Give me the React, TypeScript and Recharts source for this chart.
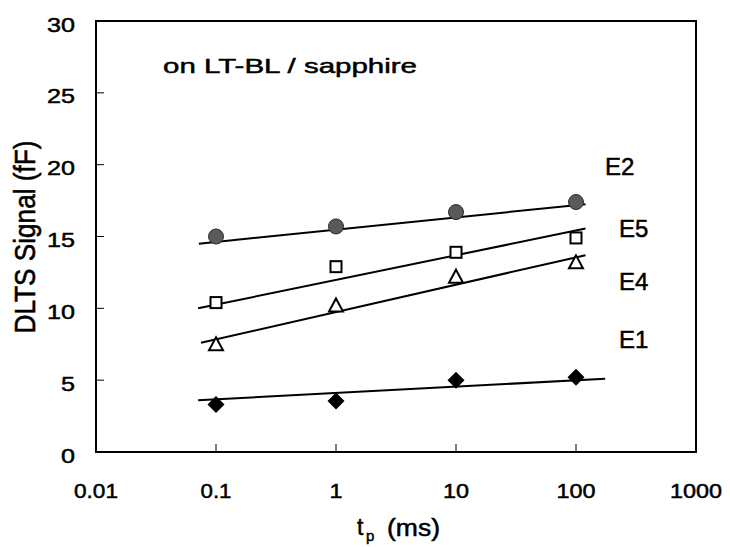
import React from 'react';
import { ScatterChart, Scatter, XAxis, YAxis, ReferenceArea } from 'recharts';

// pulse width tp (ms)
const tpValues = [0.1, 1, 10, 100];

// DLTS signal (fF) per trap
const e2Signal = [15.0, 15.7, 16.7, 17.4];
const e5Signal = [10.4, 12.9, 13.9, 14.9];
const e4Signal = [7.5, 10.2, 12.2, 13.2];
const e1Signal = [3.3, 3.55, 5.0, 5.2];

// end points of the fitted lines: [tp, signal]
const e2Fit = [[0.072, 14.5], [120, 17.25]];
const e5Fit = [[0.071, 10.0], [120, 15.55]];
const e4Fit = [[0.075, 7.6], [120, 13.7]];
const e1Fit = [[0.071, 3.6], [175, 5.1]];

const xTicks = [0.01, 0.1, 1, 10, 100, 1000];
const yTicks = [0, 5, 10, 15, 20, 25, 30];

const toPoints = (ys: number[]) => tpValues.map((x, i) => ({ x, y: ys[i] }));
const toLine = (pts: number[][]) => pts.map(([x, y]) => ({ x, y }));

const FONT = '"Liberation Sans", Arial, sans-serif';
// scanned text looks heavier than plain Arial
const INK = { stroke: '#000', strokeWidth: 0.5 };

const Circle = ({ cx, cy }: any) => (
  <circle cx={cx} cy={cy} r={7.5} fill="#5a5a5a" stroke="#2a2a2a" strokeWidth={1} />
);
const Square = ({ cx, cy }: any) => (
  <rect x={cx - 5.5} y={cy - 5.5} width={11} height={11} fill="#fff" stroke="#000" strokeWidth={2} />
);
const Triangle = ({ cx, cy }: any) => (
  <path d={`M${cx},${cy - 7} L${cx + 7},${cy + 6} L${cx - 7},${cy + 6} Z`} fill="#fff" stroke="#000" strokeWidth={2} />
);
const Diamond = ({ cx, cy }: any) => (
  <path d={`M${cx},${cy - 8.5} L${cx + 8.5},${cy} L${cx},${cy + 8.5} L${cx - 8.5},${cy} Z`} fill="#000" />
);
const NoDot = () => <g />;

const XTick = ({ x, y, payload }: any) => {
  const s = String(payload.value);
  const w = s.replace('.', '').length * 13 + (s.includes('.') ? 5 : 0);
  return (
    <g>
      <line x1={x} y1={y} x2={x} y2={y - 8} stroke="#000" strokeWidth={1} />
      <text x={x} y={y + 46} textAnchor="middle" fontFamily={FONT} fontSize={21}
        textLength={w} lengthAdjust="spacingAndGlyphs" fill="#000" {...INK}>{s}</text>
    </g>
  );
};

const YTick = ({ x, y, payload }: any) => {
  const s = String(payload.value);
  return (
    <g>
      <line x1={x} y1={y} x2={x + 8} y2={y} stroke="#000" strokeWidth={1} />
      <text x={x - 21} y={y + 10.5} textAnchor="end" fontFamily={FONT} fontSize={21}
        textLength={s.length * 14} lengthAdjust="spacingAndGlyphs" fill="#000" {...INK}>{s}</text>
    </g>
  );
};

export default function App() {
  return (
    <div style={{ position: 'absolute', left: 0, top: 0, width: 730, height: 547, background: '#fff' }}>
      <ScatterChart width={730} height={547} margin={{ top: 21, right: 34, bottom: 35, left: 0 }}>
        <XAxis dataKey="x" type="number" scale="log" domain={[0.01, 1000]} ticks={xTicks}
          allowDataOverflow axisLine={false} tickLine={false} tickSize={0} tickMargin={0}
          height={60} tick={<XTick />} interval={0} />
        <YAxis dataKey="y" type="number" domain={[0, 30]} ticks={yTicks} allowDataOverflow
          axisLine={false} tickLine={false} tickSize={0} tickMargin={0} width={96}
          tick={<YTick />} interval={0} />
        <ReferenceArea x1={0.01} x2={1000} y1={0} y2={30} fill="none" stroke="#000" strokeWidth={2} />
        <Scatter data={toLine(e2Fit)} line={{ stroke: '#000', strokeWidth: 2 }} shape={<NoDot />} isAnimationActive={false} />
        <Scatter data={toLine(e5Fit)} line={{ stroke: '#000', strokeWidth: 2 }} shape={<NoDot />} isAnimationActive={false} />
        <Scatter data={toLine(e4Fit)} line={{ stroke: '#000', strokeWidth: 2 }} shape={<NoDot />} isAnimationActive={false} />
        <Scatter data={toLine(e1Fit)} line={{ stroke: '#000', strokeWidth: 2 }} shape={<NoDot />} isAnimationActive={false} />
        <Scatter name="E2" data={toPoints(e2Signal)} shape={<Circle />} isAnimationActive={false} />
        <Scatter name="E5" data={toPoints(e5Signal)} shape={<Square />} isAnimationActive={false} />
        <Scatter name="E4" data={toPoints(e4Signal)} shape={<Triangle />} isAnimationActive={false} />
        <Scatter name="E1" data={toPoints(e1Signal)} shape={<Diamond />} isAnimationActive={false} />
      </ScatterChart>
      <svg width={730} height={547} style={{ position: 'absolute', left: 0, top: 0, pointerEvents: 'none' }}>
        <g fontFamily={FONT} fill="#000" {...INK}>
          <text x={163} y={73} fontSize={21} textLength={254} lengthAdjust="spacingAndGlyphs">on LT-BL / sapphire</text>
          <text x={605} y={175} fontSize={24}>E2</text>
          <text x={619} y={237} fontSize={24}>E5</text>
          <text x={619} y={290} fontSize={24}>E4</text>
          <text x={619} y={348} fontSize={24}>E1</text>
          <text transform="translate(35,237) scale(1.15,1) rotate(-90)" textAnchor="middle" fontSize={26}
            textLength={193} lengthAdjust="spacingAndGlyphs">DLTS Signal (fF)</text>
          <text x={357} y={535} fontSize={23}>t</text>
          <text x={366} y={541} fontSize={15}>p</text>
          <text x={387} y={536} fontSize={23} textLength={53} lengthAdjust="spacingAndGlyphs">(ms)</text>
        </g>
      </svg>
    </div>
  );
}
